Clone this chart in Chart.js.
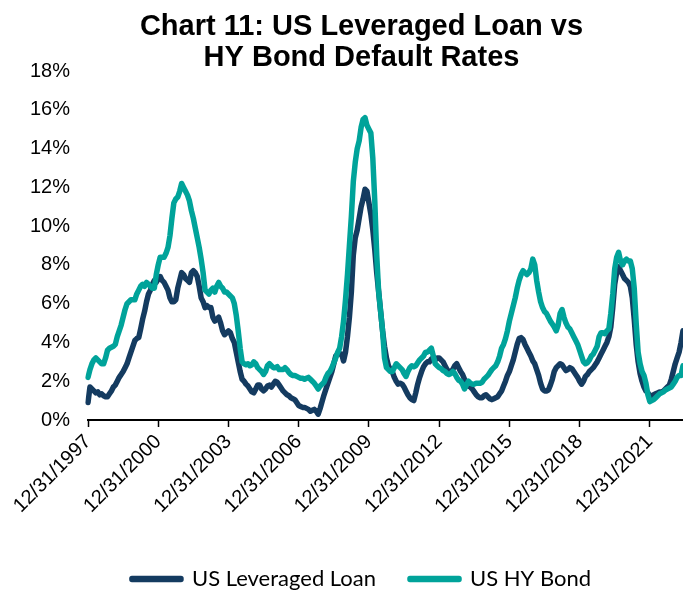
<!DOCTYPE html>
<html>
<head>
<meta charset="utf-8">
<title>US Leveraged Loan vs HY Bond Default Rates</title>
<script src="https://cdn.jsdelivr.net/npm/chart.js@4.4.0/dist/chart.umd.min.js"></script>
<style>
  html, body { margin: 0; padding: 0; background: #fff; }
  #wrap { width: 683px; height: 593px; }
</style>
</head>
<body>
<div id="wrap"><canvas id="defaultChart"></canvas></div>
<script>
// x-axis labels that are shown (every third year-end)
const tickLabels = ['12/31/1997', '12/31/2000', '12/31/2003', '12/31/2006', '12/31/2009',
                    '12/31/2012', '12/31/2015', '12/31/2018', '12/31/2021'];

// monthly default rates (%), Dec 1997 .. May 2023, one row = Dec..Nov
const leveragedLoan = [
  0.9, 1.7, 1.6, 1.5, 1.4, 1.45, 1.3, 1.35, 1.25, 1.2, 1.2, 1.35,
  1.5, 1.7, 1.8, 2.0, 2.2, 2.35, 2.5, 2.7, 2.9, 3.2, 3.5, 3.8,
  4.1, 4.2, 4.25, 4.7, 5.2, 5.6, 6.1, 6.5, 6.7, 7.0, 7.2, 7.1,
  7.3, 7.4, 7.2, 7.1, 6.9, 6.7, 6.3, 6.1, 6.1, 6.2, 6.8, 7.2,
  7.6, 7.5, 7.3, 7.2, 7.1, 7.6, 7.7, 7.6, 7.4, 6.9, 6.3, 6.1,
  5.8, 5.9, 5.8, 5.8, 5.3, 5.1, 5.2, 5.3, 5.0, 4.6, 4.4, 4.5,
  4.6, 4.5, 4.2, 4.0, 3.5, 3.0, 2.5, 2.1, 2.0, 1.85, 1.75, 1.6,
  1.45, 1.4, 1.6, 1.8, 1.8, 1.6, 1.5, 1.6, 1.75, 1.8, 1.7, 1.85,
  2.0, 1.95, 1.8, 1.65, 1.5, 1.4, 1.3, 1.25, 1.15, 1.1, 1.05, 0.9,
  0.75, 0.7, 0.65, 0.65, 0.6, 0.55, 0.45, 0.5, 0.55, 0.45, 0.3, 0.6,
  0.95, 1.3, 1.6, 1.9, 2.2, 2.5, 2.9, 3.3, 3.4, 3.4, 3.4, 3.05,
  3.5, 4.3, 5.3, 6.6, 8.5, 9.4, 9.8, 10.4, 11.0, 11.4, 11.9, 11.8,
  11.2, 10.6, 9.8, 8.8, 7.6, 6.6, 5.6, 4.6, 3.8, 3.2, 2.8, 2.6,
  2.5, 2.2, 2.0, 1.85, 1.9, 1.85, 1.7, 1.5, 1.3, 1.15, 1.05, 1.0,
  1.4, 1.85, 2.2, 2.5, 2.75, 2.9, 3.0, 3.0, 3.15, 3.2, 3.1, 3.2,
  3.2, 3.1, 3.0, 2.8, 2.6, 2.5, 2.5, 2.6, 2.8, 2.9, 2.7, 2.5,
  2.35, 2.1, 1.85, 1.75, 1.7, 1.6, 1.45, 1.3, 1.2, 1.15, 1.15, 1.25,
  1.3, 1.2, 1.1, 1.05, 1.1, 1.15, 1.2, 1.35, 1.5, 1.75, 2.0, 2.3,
  2.5, 2.8, 3.1, 3.5, 3.9, 4.2, 4.25, 4.15, 3.9, 3.7, 3.5, 3.3,
  3.05, 2.9, 2.6, 2.3, 1.9, 1.6, 1.5, 1.5, 1.55, 1.8, 2.1, 2.5,
  2.7, 2.8, 2.9, 2.85, 2.7, 2.55, 2.6, 2.7, 2.65, 2.5, 2.35, 2.2,
  2.0, 1.85, 2.0, 2.25, 2.35, 2.5, 2.6, 2.7, 2.85, 3.0, 3.2, 3.4,
  3.6, 3.8, 4.0, 4.3, 4.8, 5.8, 7.0, 7.6, 7.9, 7.7, 7.5, 7.3,
  7.2, 7.1, 6.9, 6.3, 5.2, 3.9, 3.0, 2.4, 2.0, 1.7, 1.5, 1.4,
  1.25, 1.25, 1.3, 1.35, 1.4, 1.45, 1.45, 1.5, 1.6, 1.7, 1.8, 2.1,
  2.5, 2.9, 3.2, 3.5, 4.0, 4.6
];

const hyBond = [
  2.2, 2.6, 2.9, 3.1, 3.2, 3.1, 3.0, 2.9, 2.9, 3.2, 3.6, 3.7,
  3.75, 3.8, 3.9, 4.3, 4.6, 4.9, 5.3, 5.7, 6.0, 6.1, 6.2, 6.2,
  6.2, 6.5, 6.7, 6.9, 7.0, 6.9, 7.1, 7.0, 6.9, 6.8, 6.8, 7.5,
  8.0, 8.4, 8.4, 8.4, 8.6, 8.9, 9.5, 10.4, 11.2, 11.4, 11.5, 11.8,
  12.2, 12.0, 11.8, 11.6, 11.3, 10.8, 10.4, 9.9, 9.4, 8.9, 8.3, 7.6,
  6.7, 6.6, 6.5, 6.7, 6.8, 6.6, 6.9, 7.1, 6.9, 6.8, 6.6, 6.6,
  6.5, 6.4, 6.3, 6.0, 5.4, 4.6, 3.7, 3.0, 2.9, 2.85, 2.9, 2.8,
  2.85, 3.0, 2.9, 2.7, 2.6, 2.5, 2.35, 2.5, 2.8, 2.9, 2.8, 2.7,
  2.7, 2.75, 2.6, 2.6, 2.6, 2.7, 2.6, 2.45, 2.35, 2.3, 2.3, 2.25,
  2.2, 2.15, 2.15, 2.1, 2.15, 2.2, 2.1, 2.0, 1.9, 1.75, 1.6, 1.75,
  1.85, 1.95, 2.2, 2.4, 2.5, 2.7, 2.95, 3.2, 3.5, 3.7, 4.3, 5.1,
  6.2, 7.5, 9.0, 10.5, 12.3, 13.3, 14.0, 14.4, 15.1, 15.5, 15.6, 15.2,
  15.0, 14.8, 13.5, 11.3, 8.5, 6.6, 5.6, 4.6, 3.2, 2.7, 2.6, 2.5,
  2.5, 2.7, 2.9, 2.8, 2.7, 2.6, 2.4, 2.25, 2.5, 2.7, 2.8, 2.75,
  2.8, 2.95, 3.1, 3.2, 3.3, 3.5, 3.5, 3.6, 3.7, 3.3, 2.9, 2.8,
  2.7, 2.65, 2.55, 2.5, 2.4, 2.35, 2.4, 2.5, 2.4, 2.2, 2.05, 2.0,
  1.85, 1.6, 1.8, 2.0, 1.9, 1.85, 1.85, 1.9, 1.9, 1.9, 1.95, 2.1,
  2.2, 2.3, 2.45, 2.6, 2.7, 2.8, 3.0, 3.3, 3.7, 3.9, 4.2, 4.6,
  5.1, 5.5, 5.9, 6.3, 6.8, 7.2, 7.5, 7.7, 7.6, 7.5, 7.6, 7.8,
  8.3, 8.0, 7.2, 6.6, 6.1, 5.8, 5.6, 5.5, 5.3, 5.1, 4.95, 4.8,
  4.6, 4.9, 5.5, 5.7, 5.3, 5.0, 4.8, 4.7, 4.5, 4.3, 4.1, 3.9,
  3.6, 3.3, 3.0, 2.9, 2.95, 3.1, 3.3, 3.4, 3.6, 3.8, 4.3, 4.5,
  4.5, 4.45, 4.6, 4.7, 5.5, 6.5, 7.8, 8.4, 8.65, 8.2, 8.0, 8.2,
  8.3, 8.2, 8.2, 7.8, 6.8, 5.0, 3.5, 2.9, 2.5, 2.3, 1.9, 1.3,
  0.95, 1.0, 1.05, 1.15, 1.25, 1.35, 1.4, 1.45, 1.55, 1.6, 1.65, 1.7,
  1.85, 2.0, 2.2, 2.3, 2.3, 2.8
];

// month-end dates for the category axis
const months = [];
for (let i = 0; i < leveragedLoan.length; i++) {
  const d = new Date(1998, i, 0);
  months.push((d.getMonth() + 1) + '/' + d.getDate() + '/' + d.getFullYear());
}

const navy = '#143B60';
const teal = '#00A39A';
const arial = "'Liberation Sans', Arial, sans-serif";

// the y labels are wider than the narrow y box, so don't clip them to it
const unclipY = {
  id: 'unclipY',
  afterLayout(chart) { chart.scales.y.left = 0; }
};

document.addEventListener('DOMContentLoaded', function() {
  const ctx = document.getElementById('defaultChart').getContext('2d');

  new Chart(ctx, {
    type: 'line',
    data: {
      labels: months,
      datasets: [{
        label: 'US Leveraged Loan',
        data: leveragedLoan,
        borderColor: navy,
        backgroundColor: navy,
        order: 1
      }, {
        label: 'US HY Bond',
        data: hyBond,
        borderColor: teal,
        backgroundColor: teal,
        order: 0 // teal drawn on top
      }]
    },
    plugins: [unclipY],
    options: {
      responsive: true,
      maintainAspectRatio: false,
      animation: false,
      layout: { padding: { left: 40, right: 0, top: 0, bottom: -7 } },
      elements: {
        point: { radius: 0 },
        line: { borderWidth: 5.5, tension: 0, borderJoinStyle: 'round', borderCapStyle: 'round' }
      },
      plugins: {
        title: {
          display: true,
          text: ['Chart 11: US Leveraged Loan vs', 'HY Bond Default Rates'],
          color: '#000',
          font: { family: arial, size: 29, weight: 'bold', lineHeight: 1.07 },
          padding: { top: 11.5, bottom: -2.5 }
        },
        legend: {
          position: 'bottom',
          labels: {
            sort: (a, b) => a.datasetIndex - b.datasetIndex,
            boxWidth: 49,
            boxHeight: 1,
            padding: 34,
            color: '#000',
            font: { family: 'Lato', size: 22 }
          }
        },
        tooltip: { enabled: false }
      },
      scales: {
        x: {
          grid: { drawOnChartArea: false, drawTicks: true, tickLength: 7, tickColor: '#000', tickWidth: 1.5 },
          border: { display: true, color: '#000', width: 2 },
          ticks: {
            autoSkip: false,
            minRotation: 45,
            maxRotation: 45,
            padding: 3,
            color: '#000',
            font: { family: arial, size: 20 },
            callback: function(value) {
              const lab = this.getLabelForValue(value);
              return tickLabels.includes(lab) ? lab : null;
            }
          },
          afterFit: function(scale) {
            scale.height = 114;
            scale.paddingLeft = 0; // first label may hang over the y axis
          }
        },
        y: {
          min: 0,
          max: 18,
          grid: { display: false },
          border: { display: false },
          ticks: {
            stepSize: 2,
            padding: 10,
            color: '#000',
            font: { family: arial, size: 20 },
            callback: v => v + '%'
          },
          afterFit: function(scale) { scale.width = 48; }
        }
      }
    }
  });
});
</script>
</body>
</html>
